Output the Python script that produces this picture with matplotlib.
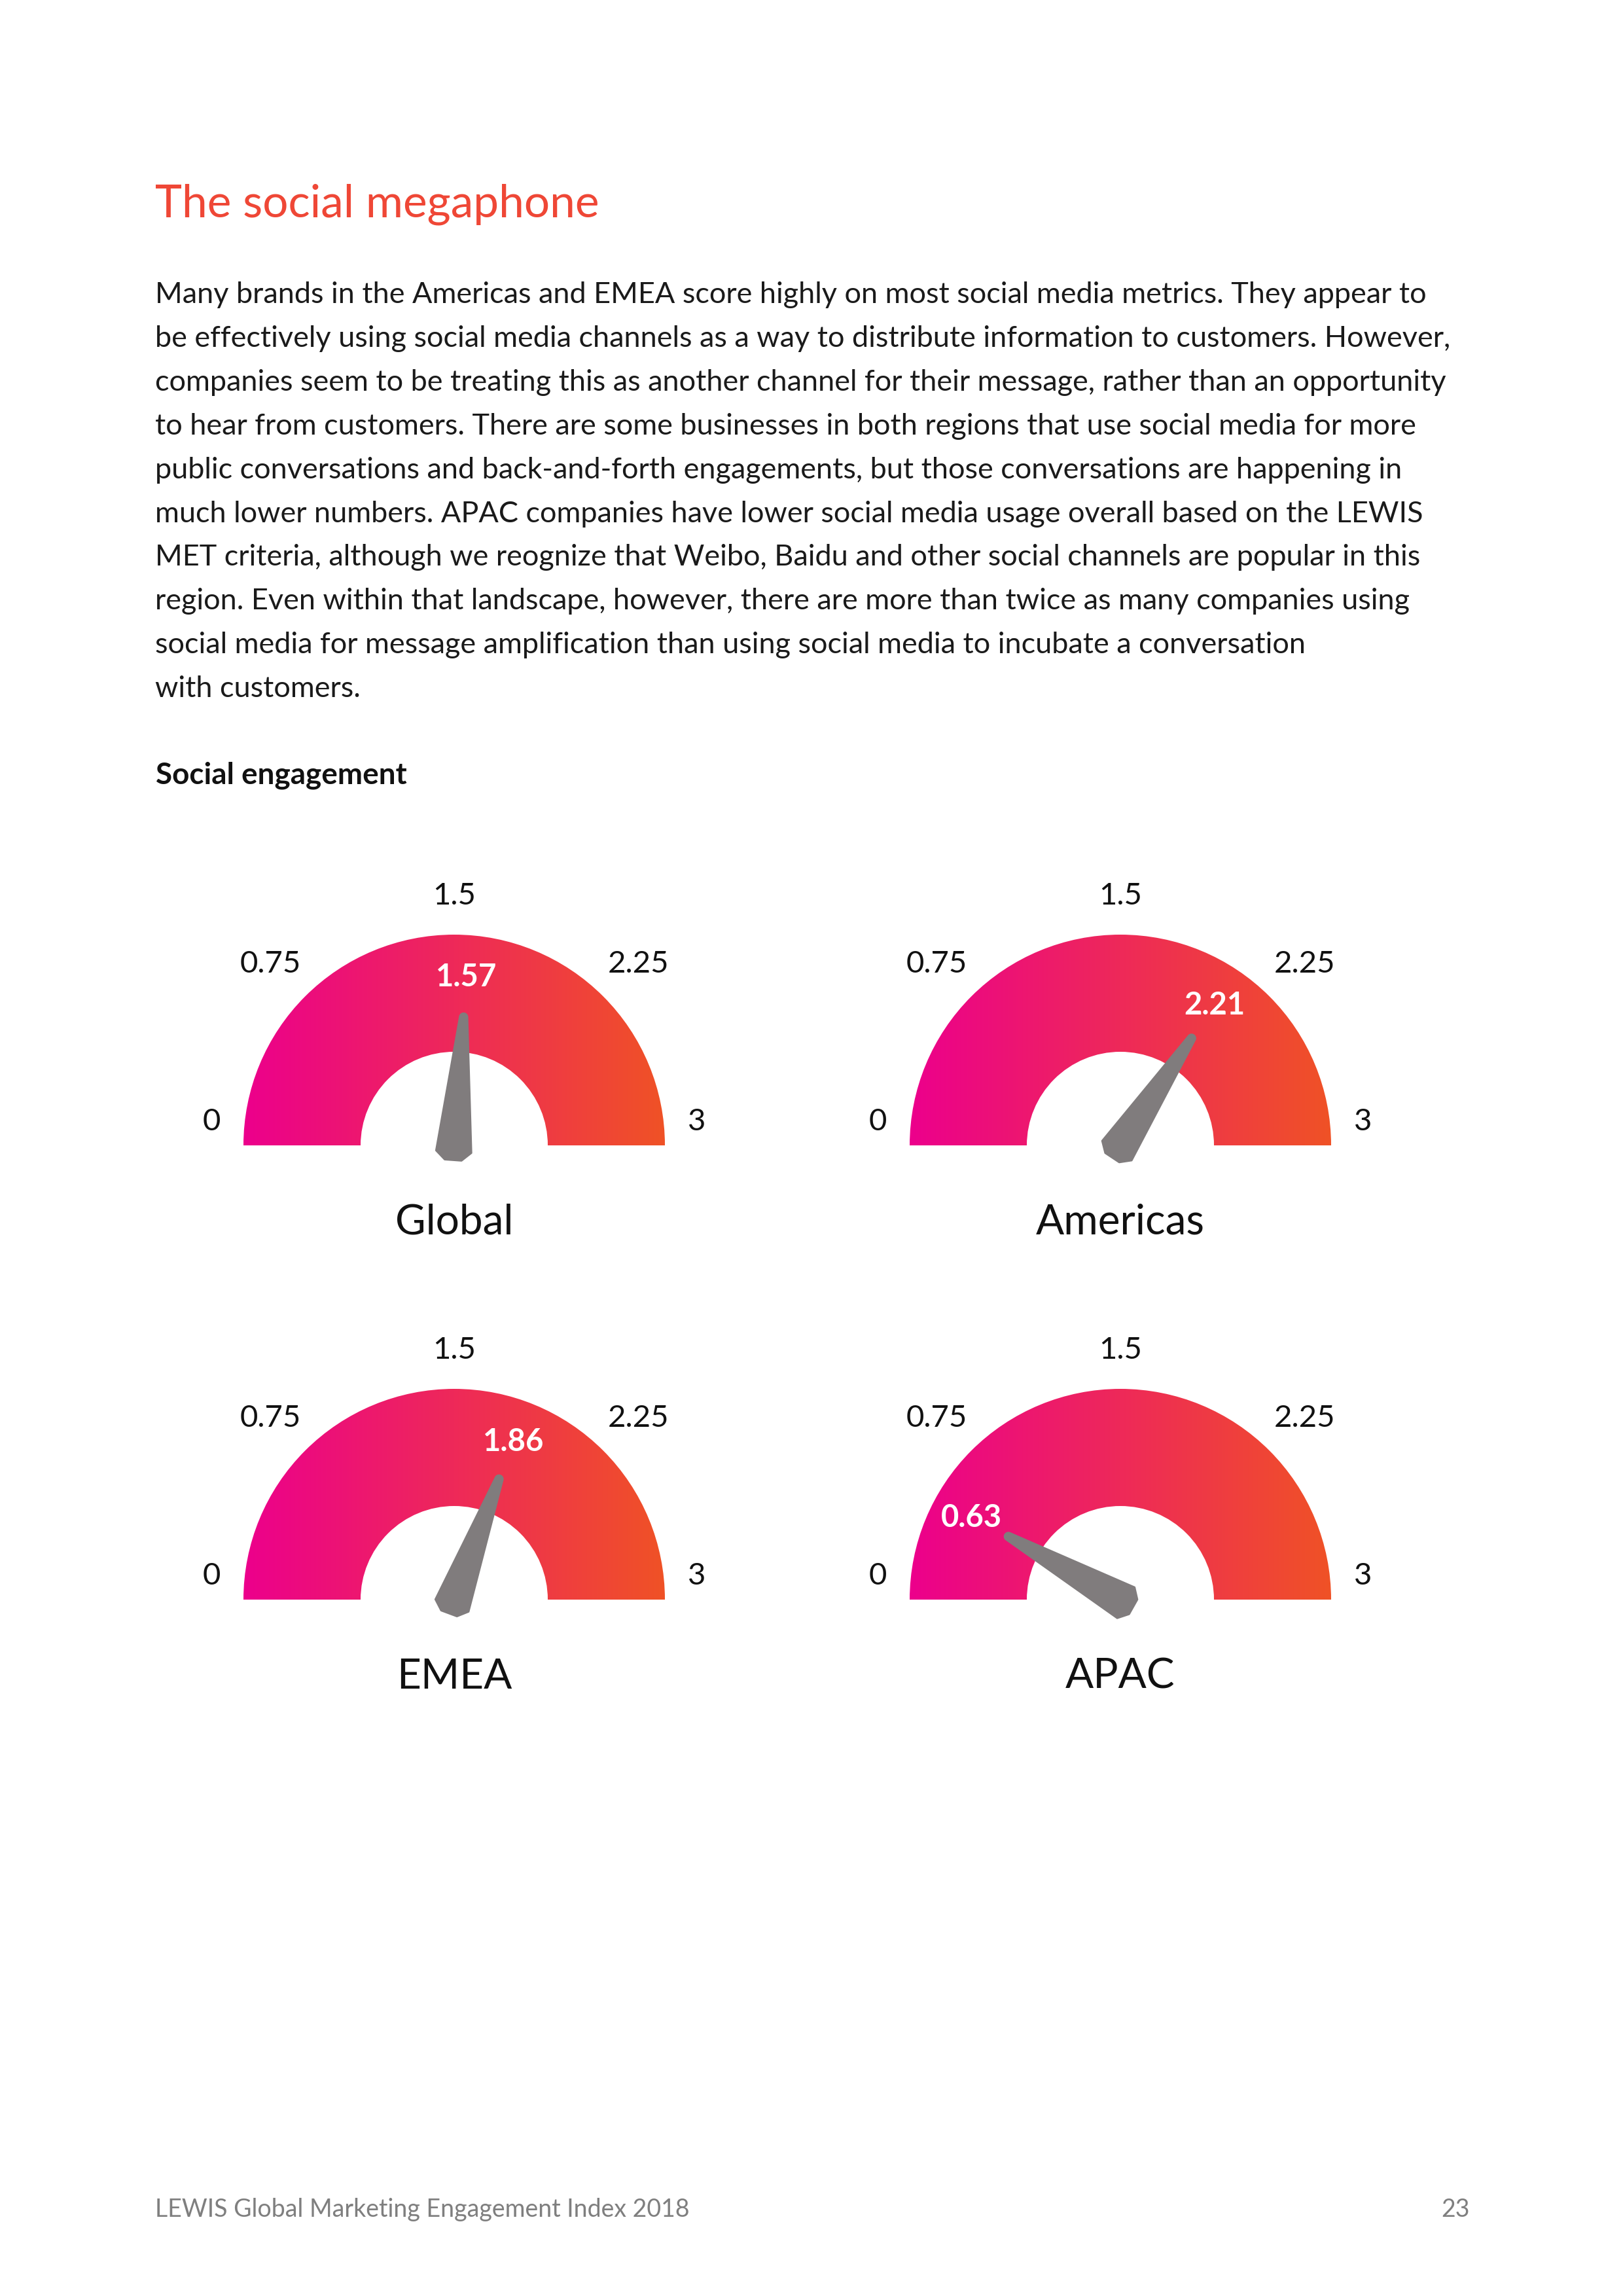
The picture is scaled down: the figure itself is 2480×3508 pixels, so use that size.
import numpy as np
import matplotlib
matplotlib.use('Agg')
import matplotlib.pyplot as plt
from matplotlib.patches import Wedge, Polygon

# chart data
regions = ['Global', 'Americas', 'EMEA', 'APAC']
scores = [1.57, 2.21, 1.86, 0.63]
# where the needles actually point in the original graphic
needle_pos = [1.57, 2.06, 1.84, 0.49]
ticks = [0, 0.75, 1.5, 2.25, 3]
tick_labels = ['0', '0.75', '1.5', '2.25', '3']
scale_max = 3

title = 'The social megaphone'
body = [
    'Many brands in the Americas and EMEA score highly on most social media metrics. They appear to',
    'be effectively using social media channels as a way to distribute information to customers. However,',
    'companies seem to be treating this as another channel for their message, rather than an opportunity',
    'to hear from customers. There are some businesses in both regions that use social media for more',
    'public conversations and back-and-forth engagements, but those conversations are happening in',
    'much lower numbers. APAC companies have lower social media usage overall based on the LEWIS',
    'MET criteria, although we reognize that Weibo, Baidu and other social channels are popular in this',
    'region. Even within that landscape, however, there are more than twice as many companies using',
    'social media for message amplification than using social media to incubate a conversation',
    'with customers.',
]
subtitle = 'Social engagement'
footer = 'LEWIS Global Marketing Engagement Index 2018'
page = '23'

W, H = 2480, 3508
FONT = ['Lato', 'DejaVu Sans']
plt.rcParams['font.family'] = FONT

fig = plt.figure(figsize=(W / 100, H / 100), dpi=100)
ax = fig.add_axes([0, 0, 1, 1])


def Y(p):
    # page pixel (from top) -> data y
    return H - p


# header text
ax.text(237, Y(331), title, fontsize=50, color='#EF4736', va='baseline')
for i, line in enumerate(body):
    ax.text(237, Y(463 + 66.9 * i), line, fontsize=32.4, color='#1a1a1a', va='baseline')
ax.text(238, Y(1198), subtitle, fontsize=33, fontweight='bold', color='#111111', va='baseline')

# gauges
centers = [(694, 1750), (1712, 1750), (694, 2444), (1712, 2444)]
R, r = 322, 143
c_left = np.array([236, 0, 140]) / 255
c_right = np.array([240, 82, 38]) / 255
grad = np.linspace(0, 1, 256)[:, None] * (c_right - c_left) + c_left
grad = grad[None, :, :]
tick_r = [1.15, 1.235, 1.195, 1.235, 1.15]
needle_col = '#807C7D'

for name, val, npos, (cxp, cyp) in zip(regions, scores, needle_pos, centers):
    cx, cy = cxp, Y(cyp)
    band = Wedge((cx, cy), R, 0, 180, width=R - r, fc='none', ec='none', transform=ax.transData)
    ax.add_patch(band)
    im = ax.imshow(grad, extent=[cx - R, cx + R, cy, cy + R], aspect='auto',
                   interpolation='bilinear', zorder=1)
    im.set_clip_path(band)

    # scale labels
    for t, lab, tr in zip(ticks, tick_labels, tick_r):
        th = np.pi * (1 - t / scale_max)
        x = cx + tr * R * np.cos(th)
        y = cy + max(tr * R * np.sin(th), 0.125 * R)
        ax.text(x, y - 17, lab, fontsize=34, color='#111111', ha='center', va='baseline')

    # needle
    th = np.pi * (1 - npos / scale_max)
    arc = np.linspace(-np.pi / 2, np.pi / 2, 14)
    tip = np.column_stack([0.61 + 0.018 * np.cos(arc), 0.018 * np.sin(arc)])
    outline = np.vstack([[[-0.03, -0.084]], tip, [[-0.03, 0.084], [-0.07, 0.04], [-0.07, -0.04]]])
    a, p = outline[:, 0], outline[:, 1]
    xs = cx + R * (a * np.cos(th) - p * np.sin(th))
    ys = cy + R * (a * np.sin(th) + p * np.cos(th))
    ax.add_patch(Polygon(np.column_stack([xs, ys]), closed=True, fc=needle_col, ec=needle_col,
                         lw=2, joinstyle='round', zorder=3))

    # value label
    lx = cx + 0.81 * R * np.cos(th)
    ly = cy + 0.81 * R * np.sin(th)
    ax.text(lx, ly - 17, f'{val:.2f}', fontsize=34, fontweight='bold', color='white',
            ha='center', va='baseline', zorder=4)

    # region name
    ax.text(cx, cy - 136, name, fontsize=46, color='#111111', ha='center', va='baseline')

# footer
ax.text(237, Y(3387), footer, fontsize=27, color='#7f7f7f', va='baseline')
ax.text(2246, Y(3387), page, fontsize=27, color='#7f7f7f', va='baseline', ha='right')

ax.set_xlim(0, W)
ax.set_ylim(0, H)
ax.axis('off')
fig.savefig('out.png', dpi=100, facecolor='white')
